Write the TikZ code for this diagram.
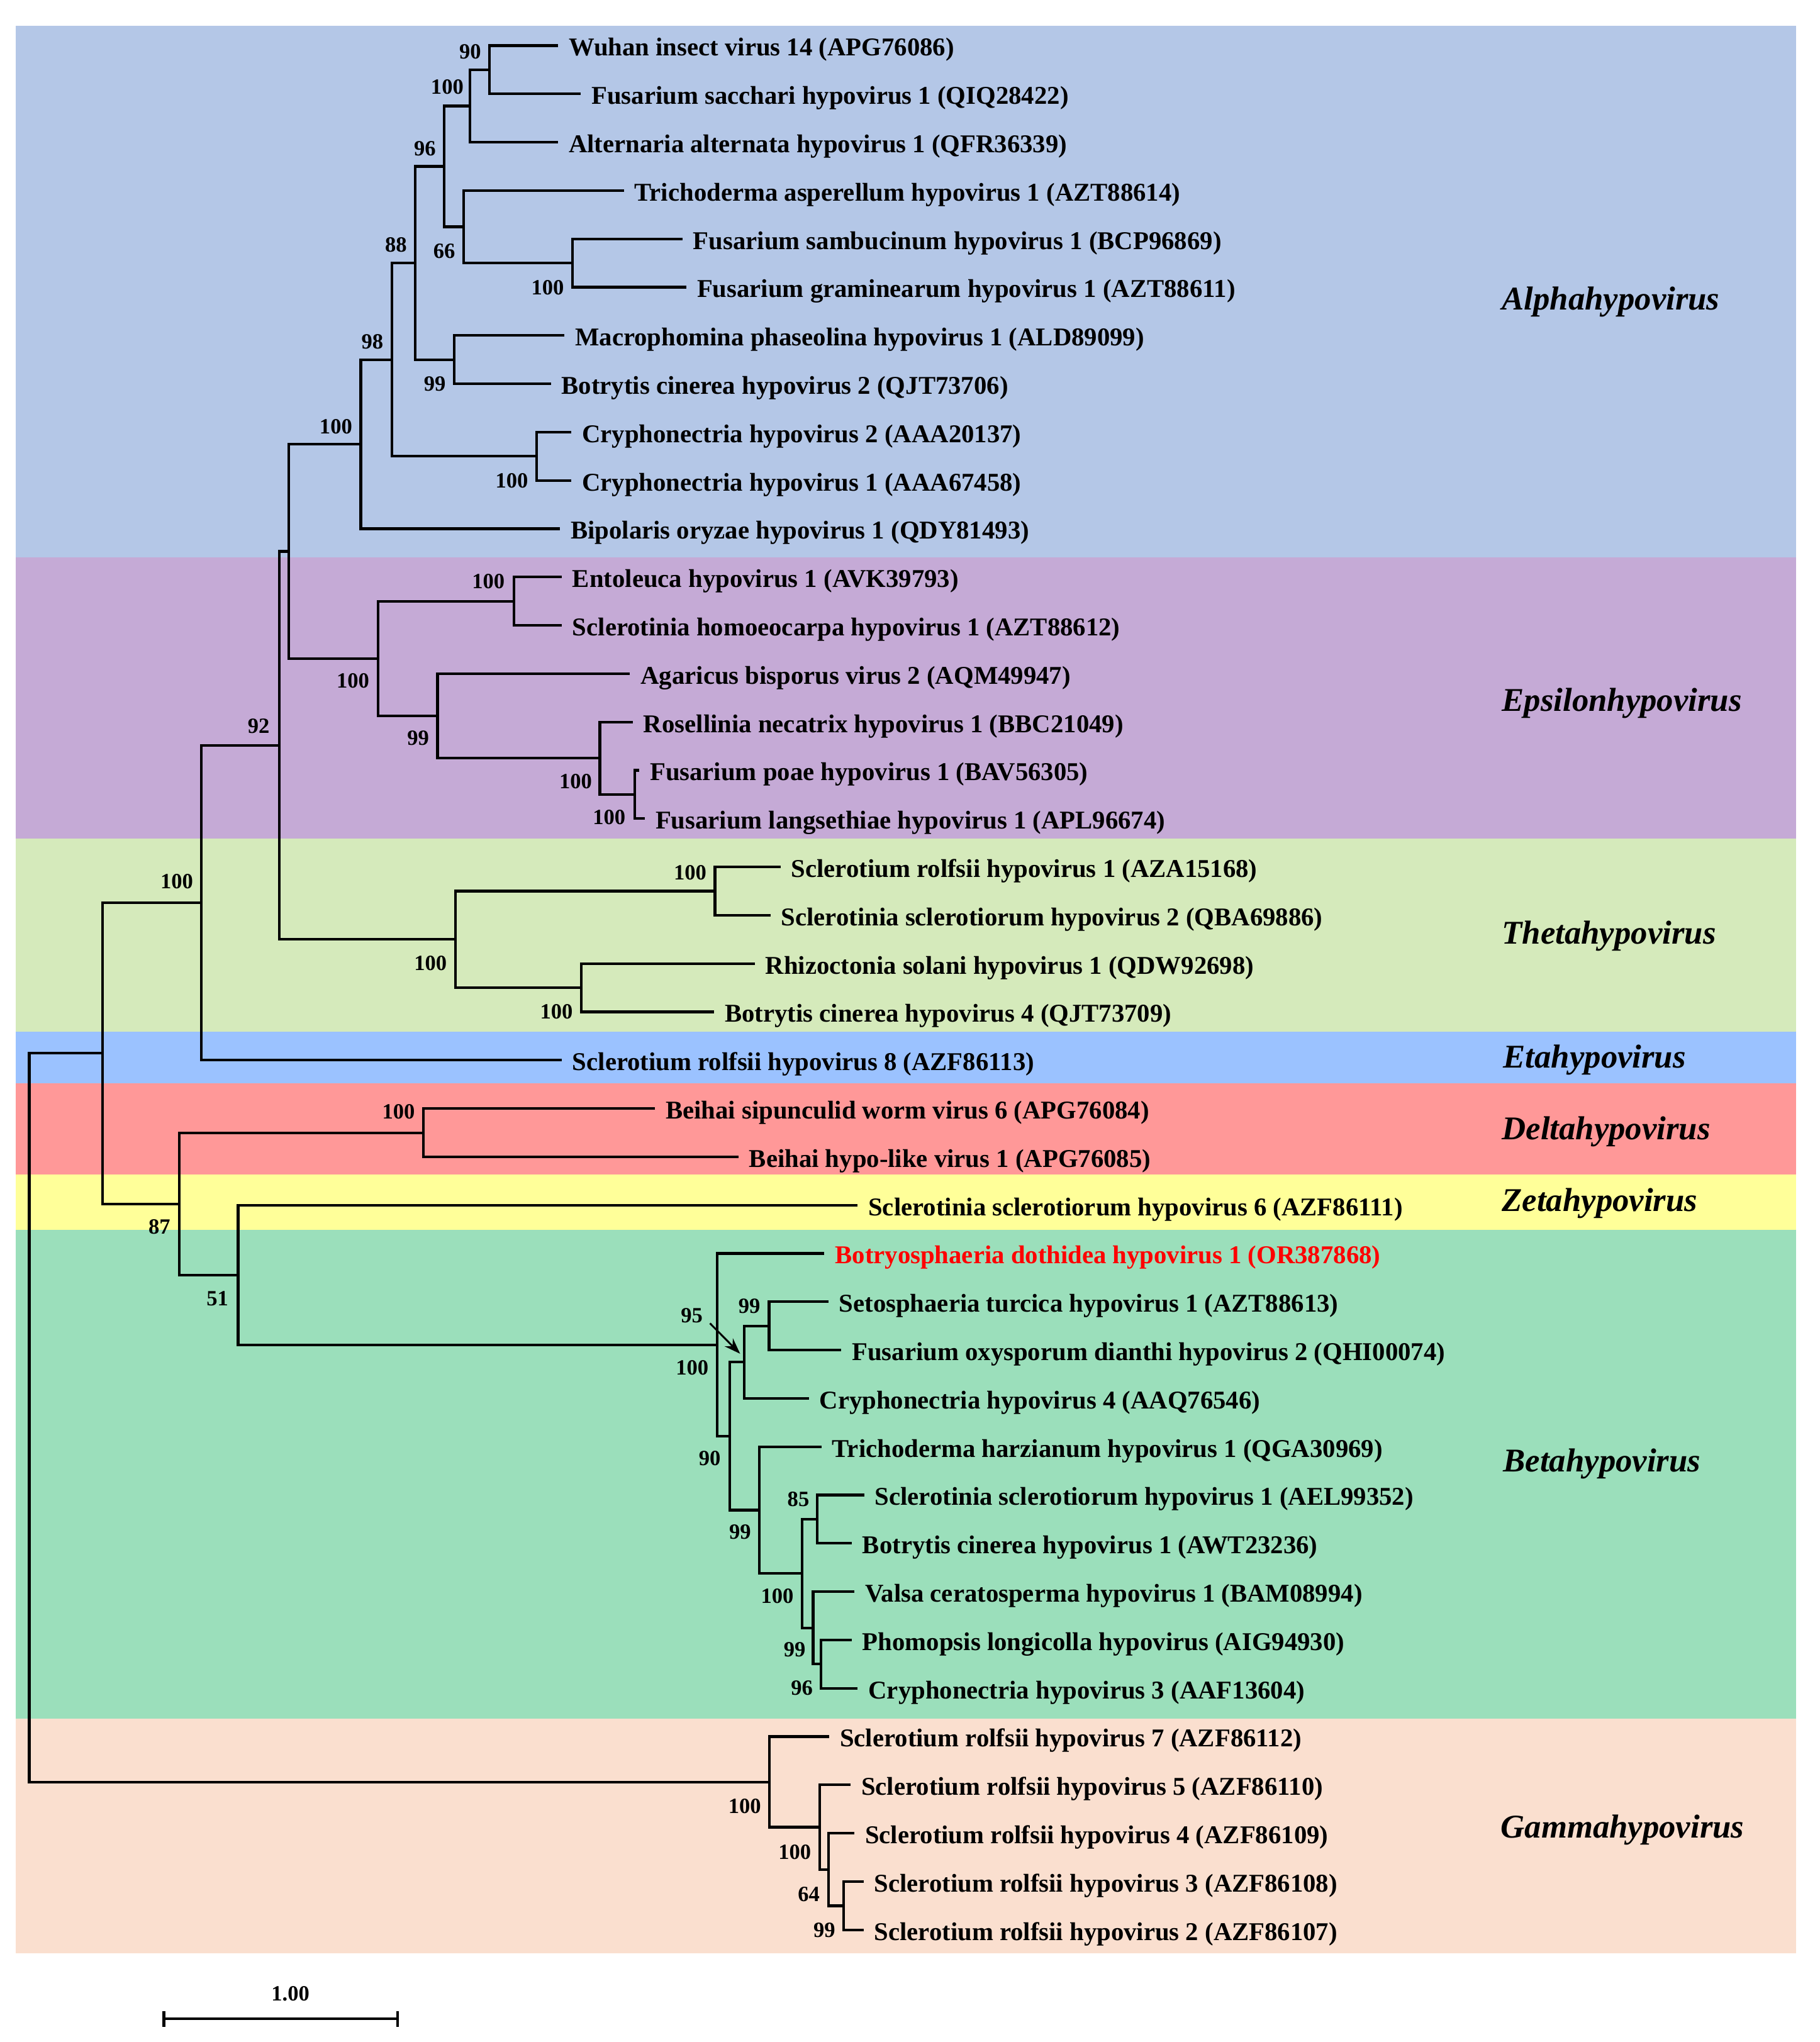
\documentclass[tikz,border=0pt]{standalone}
\usepackage{fontspec}
\setmainfont{Liberation Serif}
\usepackage{xcolor}
\usetikzlibrary{arrows.meta}

\definecolor{alphabg}{RGB}{180,199,231}
\definecolor{epsbg}{RGB}{197,170,214}
\definecolor{thetabg}{RGB}{213,234,187}
\definecolor{etabg}{RGB}{155,194,255}
\definecolor{deltabg}{RGB}{255,152,152}
\definecolor{zetabg}{RGB}{255,255,153}
\definecolor{betabg}{RGB}{155,223,187}
\definecolor{gammabg}{RGB}{250,223,207}

\begin{document}
\begin{tikzpicture}[x=0.02cm, y=-0.02cm, >={Stealth[length=7pt, width=5pt]},
  branch/.style={line width=1.15pt},
  leaf/.style={anchor=west, inner xsep=4.5pt, inner ysep=0pt, text height=9pt,
    text depth=0pt, font=\fontsize{11.2}{13}\selectfont\bfseries},
  boot/.style={inner sep=0pt, font=\fontsize{9.5}{11}\selectfont\bfseries},
  clade/.style={anchor=base west, inner sep=0pt, font=\fontsize{14.5}{17}\selectfont\bfseries\itshape}
]
  \useasboundingbox (0,0) rectangle (1397,1568);

  % Coloured bands behind the genera
  \fill[alphabg] (12.3,19.8) rectangle (1379,428);
  \fill[epsbg] (12.3,428) rectangle (1379,644);
  \fill[thetabg] (12.3,644) rectangle (1379,792);
  \fill[etabg] (12.3,792) rectangle (1379,832);
  \fill[deltabg] (12.3,832) rectangle (1379,902);
  \fill[zetabg] (12.3,902) rectangle (1379,944.5);
  \fill[betabg] (12.3,944.5) rectangle (1379,1319.5);
  \fill[gammabg] (12.3,1319.5) rectangle (1379,1500);

  % Genus names on the right
  \node[clade] (alphalab) at (1153,238) {Alphahypovirus};
  \node[clade] (epslab) at (1153,546) {Epsilonhypovirus};
  \node[clade] (thetalab) at (1153,725) {Thetahypovirus};
  \node[clade] (etalab) at (1154,820) {Etahypovirus};
  \node[clade] (deltalab) at (1153,875) {Deltahypovirus};
  \node[clade] (zetalab) at (1153,930) {Zetahypovirus};
  \node[clade] (betalab) at (1154,1130) {Betahypovirus};
  \node[clade] (gammalab) at (1152,1411) {Gammahypovirus};

  % Leaves (tips of the tree)
  \node[leaf] (l01) at (428.5,35) {Wuhan insect virus 14 (APG76086)};
  \node[leaf] (l02) at (446,72.1) {Fusarium sacchari hypovirus 1 (QIQ28422)};
  \node[leaf] (l03) at (428.5,109.2) {Alternaria alternata hypovirus 1 (QFR36339)};
  \node[leaf] (l04) at (479,146.3) {Trichoderma asperellum hypovirus 1 (AZT88614)};
  \node[leaf] (l05) at (524,183.4) {Fusarium sambucinum hypovirus 1 (BCP96869)};
  \node[leaf] (l06) at (527,220.5) {Fusarium graminearum hypovirus 1 (AZT88611)};
  \node[leaf] (l07) at (433.4,257.6) {Macrophomina phaseolina hypovirus 1 (ALD89099)};
  \node[leaf] (l08) at (423,294.7) {Botrytis cinerea hypovirus 2 (QJT73706)};
  \node[leaf] (l09) at (438.7,331.8) {Cryphonectria hypovirus 2 (AAA20137)};
  \node[leaf] (l10) at (438.7,368.9) {Cryphonectria hypovirus 1 (AAA67458)};
  \node[leaf] (l11) at (430,406) {Bipolaris oryzae hypovirus 1 (QDY81493)};
  \node[leaf] (l12) at (431.3,443.1) {Entoleuca hypovirus 1 (AVK39793)};
  \node[leaf] (l13) at (431.3,480.2) {Sclerotinia homoeocarpa hypovirus 1 (AZT88612)};
  \node[leaf] (l14) at (483.7,517.3) {Agaricus bisporus virus 2 (AQM49947)};
  \node[leaf] (l15) at (485.9,554.4) {Rosellinia necatrix hypovirus 1 (BBC21049)};
  \node[leaf] (l16) at (490.8,591.5) {Fusarium poae hypovirus 1 (BAV56305)};
  \node[leaf] (l17) at (495.1,628.6) {Fusarium langsethiae hypovirus 1 (APL96674)};
  \node[leaf] (l18) at (599.3,665.7) {Sclerotium rolfsii hypovirus 1 (AZA15168)};
  \node[leaf] (l19) at (591.6,702.8) {Sclerotinia sclerotiorum hypovirus 2 (QBA69886)};
  \node[leaf] (l20) at (579.5,739.9) {Rhizoctonia solani hypovirus 1 (QDW92698)};
  \node[leaf] (l21) at (548.4,777) {Botrytis cinerea hypovirus 4 (QJT73709)};
  \node[leaf] (l22) at (431.3,814.1) {Sclerotium rolfsii hypovirus 8 (AZF86113)};
  \node[leaf] (l23) at (503,851.2) {Beihai sipunculid worm virus 6 (APG76084)};
  \node[leaf] (l24) at (567,888.3) {Beihai hypo-like virus 1 (APG76085)};
  \node[leaf] (l25) at (658.5,925.4) {Sclerotinia sclerotiorum hypovirus 6 (AZF86111)};
  \node[leaf, text=red] (l26) at (633,962.5) {Botryosphaeria dothidea hypovirus 1 (OR387868)};
  \node[leaf] (l27) at (636,999.6) {Setosphaeria turcica hypovirus 1 (AZT88613)};
  \node[leaf] (l28) at (646,1036.7) {Fusarium oxysporum dianthi hypovirus 2 (QHI00074)};
  \node[leaf] (l29) at (621,1073.8) {Cryphonectria hypovirus 4 (AAQ76546)};
  \node[leaf] (l30) at (630.7,1110.9) {Trichoderma harzianum hypovirus 1 (QGA30969)};
  \node[leaf] (l31) at (663.5,1148) {Sclerotinia sclerotiorum hypovirus 1 (AEL99352)};
  \node[leaf] (l32) at (654,1185.1) {Botrytis cinerea hypovirus 1 (AWT23236)};
  \node[leaf] (l33) at (656,1222.2) {Valsa ceratosperma hypovirus 1 (BAM08994)};
  \node[leaf] (l34) at (654,1259.3) {Phomopsis longicolla hypovirus (AIG94930)};
  \node[leaf] (l35) at (658.6,1296.4) {Cryphonectria hypovirus 3 (AAF13604)};
  \node[leaf] (l36) at (636.7,1333.5) {Sclerotium rolfsii hypovirus 7 (AZF86112)};
  \node[leaf] (l37) at (653.1,1370.6) {Sclerotium rolfsii hypovirus 5 (AZF86110)};
  \node[leaf] (l38) at (656,1407.7) {Sclerotium rolfsii hypovirus 4 (AZF86109)};
  \node[leaf] (l39) at (663,1444.8) {Sclerotium rolfsii hypovirus 3 (AZF86108)};
  \node[leaf] (l40) at (663,1481.9) {Sclerotium rolfsii hypovirus 2 (AZF86107)};

  % Internal nodes
  \coordinate (a1) at (376,53.6);
  \coordinate (a2) at (361,81.4);
  \coordinate (a3) at (439.5,202);
  \coordinate (a4) at (356,174.1);
  \coordinate (a5) at (341,127.8);
  \coordinate (a6) at (348.6,276.2);
  \coordinate (a7) at (319,202);
  \coordinate (a8) at (412,350.4);
  \coordinate (a9) at (301,276.2);
  \coordinate (a10) at (277,341.1);
  \coordinate (e1) at (394.5,461.7);
  \coordinate (e2) at (487.5,610);
  \coordinate (e3) at (460.6,582.2);
  \coordinate (e4) at (336,549.8);
  \coordinate (e5) at (290.2,505.7);
  \coordinate (ae) at (221.8,423.4);
  \coordinate (t1) at (549,684.2);
  \coordinate (t2) at (446.5,758.4);
  \coordinate (t3) at (349.6,721.3);
  \coordinate (aet) at (214.3,572.4);
  \coordinate (eta) at (154.6,693.2);
  \coordinate (d1) at (325,869.8);
  \coordinate (b1) at (590.5,1018.1);
  \coordinate (b2) at (571.5,1046);
  \coordinate (b3) at (627.5,1166.5);
  \coordinate (b4) at (630.4,1277.8);
  \coordinate (b5) at (624.3,1250);
  \coordinate (b6) at (615.7,1208.3);
  \coordinate (b7) at (583.1,1159.6);
  \coordinate (b8) at (560.5,1102.8);
  \coordinate (b9) at (550.5,1032.7);
  \coordinate (zb) at (182.8,979);
  \coordinate (dzb) at (137.7,924.4);
  \coordinate (top) at (78.7,808.8);
  \coordinate (g1) at (647.6,1463.4);
  \coordinate (g2) at (636,1435.5);
  \coordinate (g3) at (629.4,1403);
  \coordinate (g4) at (590.7,1368.3);
  \coordinate (root) at (22.5,1088.5);

  % Branches, one bracket per internal node
  \draw[branch] (l01.west) -| (a1) |- (l02.west);
  \draw[branch] (a1) -| (a2) |- (l03.west);
  \draw[branch] (l05.west) -| (a3) |- (l06.west);
  \draw[branch] (l04.west) -| (a4) |- (a3);
  \draw[branch] (a2) -| (a5) |- (a4);
  \draw[branch] (l07.west) -| (a6) |- (l08.west);
  \draw[branch] (a5) -| (a7) |- (a6);
  \draw[branch] (l09.west) -| (a8) |- (l10.west);
  \draw[branch] (a7) -| (a9) |- (a8);
  \draw[branch] (a9) -| (a10) |- (l11.west);
  \draw[branch] (l12.west) -| (e1) |- (l13.west);
  \draw[branch] (l16.west) -| (e2) |- (l17.west);
  \draw[branch] (l15.west) -| (e3) |- (e2);
  \draw[branch] (l14.west) -| (e4) |- (e3);
  \draw[branch] (e1) -| (e5) |- (e4);
  \draw[branch] (a10) -| (ae) |- (e5);
  \draw[branch] (l18.west) -| (t1) |- (l19.west);
  \draw[branch] (l20.west) -| (t2) |- (l21.west);
  \draw[branch] (t1) -| (t3) |- (t2);
  \draw[branch] (ae) -| (aet) |- (t3);
  \draw[branch] (aet) -| (eta) |- (l22.west);
  \draw[branch] (l23.west) -| (d1) |- (l24.west);
  \draw[branch] (l27.west) -| (b1) |- (l28.west);
  \draw[branch] (b1) -| (b2) |- (l29.west);
  \draw[branch] (l31.west) -| (b3) |- (l32.west);
  \draw[branch] (l34.west) -| (b4) |- (l35.west);
  \draw[branch] (l33.west) -| (b5) |- (b4);
  \draw[branch] (b3) -| (b6) |- (b5);
  \draw[branch] (l30.west) -| (b7) |- (b6);
  \draw[branch] (b2) -| (b8) |- (b7);
  \draw[branch] (l26.west) -| (b9) |- (b8);
  \draw[branch] (l25.west) -| (zb) |- (b9);
  \draw[branch] (d1) -| (dzb) |- (zb);
  \draw[branch] (eta) -| (top) |- (dzb);
  \draw[branch] (l39.west) -| (g1) |- (l40.west);
  \draw[branch] (l38.west) -| (g2) |- (g1);
  \draw[branch] (l37.west) -| (g3) |- (g2);
  \draw[branch] (l36.west) -| (g4) |- (g3);
  \draw[branch] (top) -| (root) |- (g4);

  % Bootstrap values
  \node[boot] (bsa1) at (361,39.8) {90};
  \node[boot] (bsa2) at (343.4,66.8) {100};
  \node[boot] (bsa5) at (326.2,114) {96};
  \node[boot] (bsa4) at (341.1,192.7) {66};
  \node[boot] (bsa3) at (420.5,220.7) {100};
  \node[boot] (bsa7) at (304,187.9) {88};
  \node[boot] (bsa6) at (333.8,294.7) {99};
  \node[boot] (bsa9) at (285.9,262.3) {98};
  \node[boot] (bsa8) at (393,368.9) {100};
  \node[boot] (bsa10) at (257.9,327.8) {100};
  \node[boot] (bse1) at (375,446.5) {100};
  \node[boot] (bse5) at (271,522.8) {100};
  \node[boot] (bsaet) at (198.6,557.4) {92};
  \node[boot] (bse4) at (321,566.7) {99};
  \node[boot] (bse3) at (442,600) {100};
  \node[boot] (bse2) at (467.7,627.8) {100};
  \node[boot] (bst1) at (529.9,669.9) {100};
  \node[boot] (bst3) at (330.5,739.6) {100};
  \node[boot] (bst2) at (427.3,776.8) {100};
  \node[boot] (bseta) at (135.7,676.8) {100};
  \node[boot] (bsd1) at (306,853.8) {100};
  \node[boot] (bsdzb) at (122.4,942) {87};
  \node[boot] (bszb) at (167,997) {51};
  \node[boot] (bsb9) at (531.5,1050) {100};
  \node[boot] (bsb8) at (545,1119.8) {90};
  \node[boot] (bsb2) at (531.2,1010.2) {95};
  \node[boot] (bsb1) at (575.4,1002.7) {99};
  \node[boot] (bsb7) at (568.3,1176.5) {99};
  \node[boot] (bsb3) at (613,1151.2) {85};
  \node[boot] (bsb6) at (596.8,1225.7) {100};
  \node[boot] (bsb5) at (610.2,1266.7) {99};
  \node[boot] (bsb4) at (615.7,1296) {96};
  \node[boot] (bsg4) at (571.8,1386.7) {100};
  \node[boot] (bsg3) at (610.2,1422) {100};
  \node[boot] (bsg2) at (621,1454.5) {64};
  \node[boot] (bsg1) at (633,1482) {99};

  % Arrow from the 95 to its node
  \coordinate (b2tip) at (568.3,1039.5);
  \draw[->, line width=0.8pt] ([xshift=3pt]bsb2.south east) -- (b2tip);

  % Scale bar
  \coordinate (sbl) at (124.8,1550.3);
  \coordinate (sbr) at (306.4,1550.3);
  \node[boot] (sblab) at (223,1530.8) {1.00};
  \draw[branch, {Bar[width=7pt]}-{Bar[width=7pt]}] (sbl) -- (sbr);
\end{tikzpicture}
\end{document}
